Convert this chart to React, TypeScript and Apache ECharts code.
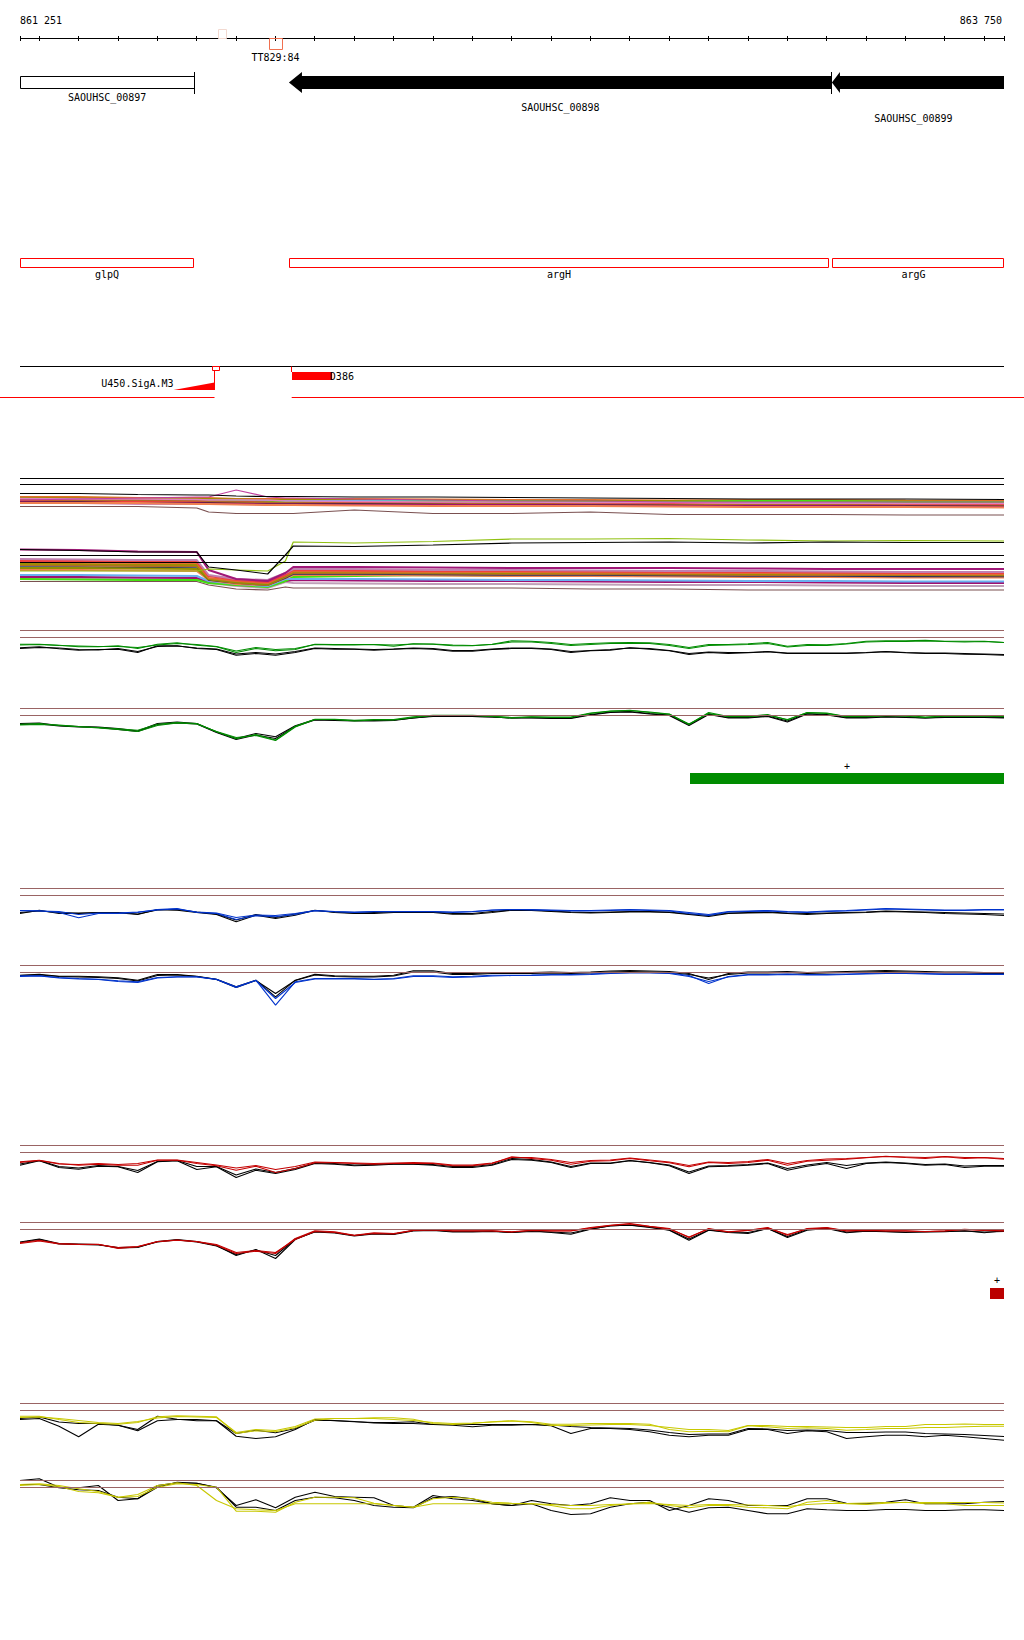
import React, { useEffect, useRef } from 'react';
import * as echarts from 'echarts';

// ---------- axis range (bp) ----------
const X_MIN = 861251;
const X_MAX = 863750;
const rulerTicks = [861251, 861300, 861400, 861500, 861600, 861700, 861800, 861900, 862000, 862100, 862200, 862300, 862400, 862500, 862600, 862700, 862800, 862900, 863000, 863100, 863200, 863300, 863400, 863500, 863600, 863700, 863750];
const rulerLabels = ['861 251', '863 750'];

// ---------- features ----------
const markerPos = [861765, 861900];
const markerLabel = ['', 'TT829:84'];

const geneNames = ['SAOUHSC_00897', 'SAOUHSC_00898', 'SAOUHSC_00899'];
const geneStart = [861251, 861934, 863313];
const geneEnd = [861694, 863313, 863750];
const geneKind = ['box', 'arrow', 'arrow'];

const operonNames = ['glpQ', 'argH', 'argG'];
const operonStart = [861251, 861934, 863312];
const operonEnd = [861694, 863306, 863750];

const promoterName = 'U450.SigA.M3';
const promoterRange = [861641, 861745];
const fragmentName = 'D386';
const fragmentRange = [861941, 862043];
const gapRange = [861745, 861941];

const greenRegion = [862953, 863750];
const redRegion = [863715, 863750];

// ---------- line-panel samples (bp) ----------
const LX = [861251, 861300, 861350, 861400, 861450, 861500, 861550, 861600, 861650, 861700, 861750, 861800, 861850, 861900, 861950, 862000, 862050, 862100, 862150, 862200, 862250, 862300, 862350, 862400, 862450, 862500, 862550, 862600, 862650, 862700, 862750, 862800, 862850, 862900, 862950, 863000, 863050, 863100, 863150, 863200, 863250, 863300, 863350, 863400, 863450, 863500, 863550, 863600, 863650, 863700, 863750];

// values: display offset below the upper reference line
const g1c1 = [13.7, 13.7, 14.7, 16.3, 16.3, 15.3, 18, 13.7, 12.3, 14.7, 16.3, 22, 18, 20.3, 19, 13.7, 14, 14, 14, 15.7, 13.3, 13.7, 15.3, 15.3, 13.7, 10.3, 10.7, 12, 14, 13, 12.3, 12, 12.3, 14, 17, 14, 14, 13.3, 12, 15.7, 14, 14.3, 13, 10.7, 10.3, 10.3, 9.7, 10.7, 10.7, 10.7, 12];
const g1c2 = [14.5, 14, 15, 15.5, 16, 16, 17, 14.5, 13, 14, 16, 20.5, 17, 19, 18, 14, 14.5, 14.5, 14, 14.5, 13.5, 13.5, 14.5, 15, 14, 11.5, 11.5, 13, 15, 14, 13, 13, 13, 15, 18, 15, 14.5, 14, 13, 16.5, 15, 15, 13.5, 11.5, 11, 11, 10.5, 11, 11.5, 11, 12];
const g1k1 = [17.3, 16.3, 18.3, 19.7, 19, 18.7, 22, 15.3, 15.3, 18, 19, 24.7, 23, 24.7, 22, 18, 18.7, 18.7, 19.7, 18.7, 18, 18.7, 20.7, 20.7, 19, 18, 18, 19, 22, 20.3, 19.7, 17.3, 18.7, 20.3, 24, 22, 23, 22.3, 21.3, 23, 23, 23, 23, 22.3, 21.3, 22.3, 23, 23, 23.7, 24, 24.7];
const g1k2 = [18, 17, 17.5, 19, 19.5, 18, 21, 16, 15.5, 17.5, 18.5, 23.5, 22, 23.5, 21, 17.5, 18, 18.5, 19, 18.5, 17.5, 18, 20, 20, 18.5, 17.5, 17.5, 18.5, 21, 20, 19, 17.5, 18, 20, 23, 21.5, 22, 22, 21, 22.5, 22.5, 22.5, 22.5, 22, 21, 22, 22.5, 22.5, 23, 23.5, 24];

const g2c1 = [15.7, 15, 17, 18.3, 19, 20.3, 21.7, 15.7, 14, 15, 23.3, 30.3, 26, 31.5, 17.7, 10.7, 10.7, 11.7, 11, 11, 8.3, 6.7, 6.7, 6.7, 7.7, 9, 8.3, 9, 9, 5, 2.7, 1.7, 4, 5.7, 15.5, 5, 8.3, 8.3, 6.7, 11, 4.3, 5, 8.3, 8.3, 7.3, 7.7, 9, 7.7, 7.7, 7.7, 8.3];
const g2c2 = [16.5, 16, 16.5, 18, 19.5, 21, 23, 17, 14.5, 15.5, 23, 29, 27, 32, 18.5, 11, 11, 12.5, 11.5, 11.5, 9, 7, 7, 7, 8, 9.5, 8.5, 8.5, 8.5, 4.5, 2.5, 2, 3.5, 5.5, 16, 4, 8, 8, 6, 11.5, 4, 4.5, 8, 8, 7, 7, 8.5, 7.5, 7.5, 7, 8];
const g2k1 = [15, 14.5, 17, 18, 18.5, 20, 22.5, 15, 13.5, 15, 23.5, 30, 25, 28.3, 17.3, 11, 11.5, 12, 12, 11.5, 9.5, 7.5, 7.5, 8, 8.5, 9.5, 9, 9.5, 9.5, 6, 3.5, 3, 5, 6.5, 16, 5.5, 9, 9, 7.5, 12.5, 5, 6, 9, 9, 8, 8.5, 9.5, 8.5, 8.5, 8.5, 9];
const g2k2 = [16, 15.5, 17.5, 18.5, 19, 21, 23, 16, 14.5, 15.5, 24, 31, 26.5, 30, 18, 11.5, 12, 12.5, 12.5, 12, 9.5, 8, 8, 8, 8.5, 9.5, 9.5, 10, 10, 6.5, 4, 3.5, 5.5, 7, 17, 6, 9.5, 9.5, 8, 13.5, 5.5, 6.5, 9.5, 9.5, 8.5, 9, 9.5, 9, 9, 9, 9.5];

const b1c1 = [22.3, 22.3, 24, 29.3, 25, 25, 24, 21, 20, 24, 25, 31, 27.3, 28.3, 26, 22.3, 23.3, 24, 23.3, 23.3, 23.3, 23.3, 24, 23.3, 21.7, 21, 21, 21.5, 22, 22, 21.5, 21, 21.5, 22, 24, 26, 23, 22.5, 22, 23, 23.5, 22.5, 22, 21, 20, 20.5, 21, 21.5, 21.5, 21, 21];
const b1c2 = [22, 22.5, 23, 26, 24.5, 24.5, 23.5, 21.5, 20.5, 23.5, 24.5, 29, 26.5, 27, 25, 22, 23, 23.5, 23, 23, 23, 23, 23.5, 23, 21.5, 21, 21.5, 22, 22.5, 22.5, 22, 21.5, 22, 22.5, 25, 27, 23.5, 23, 22.5, 23.5, 24, 23, 22.5, 21.5, 20.5, 21, 21.5, 22, 22, 21.5, 21.5];
const b1k1 = [25, 21.7, 25, 25, 24.3, 24.3, 26, 21, 21.7, 24, 26, 33.3, 26.7, 30, 26.7, 21.7, 24, 25, 25, 24, 24, 24, 25.7, 25.7, 24, 21.7, 22, 23, 24, 24.5, 24, 23.5, 23.5, 24, 26, 28, 25, 24.5, 24, 25, 26, 25, 24.5, 24, 23, 23.5, 24, 25, 25.5, 26, 27];
const b1k2 = [24, 22.5, 24, 24.5, 24, 24, 25.5, 21.5, 21, 23.5, 25.5, 31.5, 26, 29, 25.5, 22, 23.5, 24.5, 24, 23.5, 23.5, 23.5, 25, 25, 23, 21.5, 21.5, 22.5, 23.5, 24, 23.5, 23, 23, 23.5, 25.5, 27, 24.5, 24, 23.5, 24.5, 25, 24.5, 24, 23.5, 22.5, 23, 23.5, 24, 24.5, 25, 25.5];

const b2c1 = [10.3, 10.3, 12, 13, 13.7, 15.3, 16.3, 12, 11.3, 11.3, 13.7, 21.3, 14.7, 39.7, 16.3, 13, 13, 13, 13.7, 13, 10.3, 10.3, 11.3, 10.7, 9.7, 9.7, 9.5, 9, 9, 8.5, 7.5, 7, 7, 7.5, 10, 18, 11, 9, 9, 8.5, 9, 9, 8.5, 8, 7.5, 7.5, 8, 8.5, 8.5, 8.5, 8.5];
const b2c2 = [11, 10.5, 12.5, 13.5, 14, 16, 17, 12.5, 11.5, 11.5, 14, 22, 15, 33, 17, 13.5, 13.5, 13.5, 14, 13.5, 11, 11, 12, 11.5, 10.5, 10, 10, 9.5, 9.5, 9, 8, 7.5, 7.5, 8, 11, 16, 11.5, 9.5, 9.5, 9, 9.5, 9.5, 9, 8.5, 8, 8, 8.5, 9, 9, 9, 9];
const b2k1 = [9.7, 8.7, 10.7, 10.7, 11.3, 12.3, 14.7, 9, 9, 10.7, 13.7, 21.3, 14.7, 31.3, 14.7, 8.7, 10.3, 10.7, 10.7, 9.7, 5.3, 5.3, 8, 8, 7.3, 7.3, 7, 6.5, 7, 6.5, 5.5, 5, 5.5, 6, 8, 14, 8, 6.5, 6.5, 6, 7, 6.5, 6, 5.5, 5, 5.5, 6, 6.5, 6.5, 7, 7];
const b2k2 = [10, 9.5, 11, 11.5, 12, 13, 15.5, 10, 9.5, 11, 14, 22, 15, 28, 15, 9.5, 11, 11.5, 11.5, 10.5, 6.5, 6.5, 9, 9, 8, 8, 8, 7.5, 8, 7.5, 6.5, 6, 6.5, 7, 9, 12.5, 9, 7.5, 7.5, 7, 8, 7.5, 7, 6.5, 6, 6.5, 7, 7.5, 7.5, 8, 8];

const r1c1 = [16.3, 14.7, 18, 19.7, 18.7, 19.7, 19.7, 14.7, 14.7, 18, 20.3, 24.7, 20.7, 27, 23, 17.3, 17.3, 18, 18.7, 18, 18, 18, 20.3, 20.3, 18, 11.3, 13, 14.7, 18.7, 15.7, 15.3, 13, 15.3, 17.3, 21.3, 17, 18, 17, 14.7, 19.7, 15.7, 14.7, 13.7, 12.3, 10.7, 12, 13, 11.3, 13, 12.3, 13.7];
const r1c2 = [17, 15, 18.5, 19, 18, 19, 18, 14.5, 14.5, 17, 19.5, 22.5, 20, 24, 21, 16.5, 17, 17.5, 18, 17.5, 17, 17.5, 19.5, 19.5, 17.5, 12, 12, 14, 17, 15, 14.5, 12.5, 14.5, 16.5, 20, 16.5, 17, 16, 14, 18, 15, 13.5, 13, 12, 11, 11.5, 12, 11, 12, 12, 13];
const r1k1 = [19.7, 15.3, 22, 23.7, 20.7, 21.3, 27, 16.3, 15.3, 24, 21.3, 32, 24.7, 28, 24, 18, 18.7, 20.3, 19.7, 18.7, 18.7, 19.7, 22, 22, 19.7, 14, 14.7, 17, 22, 18, 18, 15.3, 17.3, 20.3, 28, 21.3, 20.7, 19.7, 18, 24.7, 20.7, 18, 23, 18, 17, 18, 19.7, 19, 22, 20.7, 20.7];
const r1k2 = [18.5, 15, 21, 22.5, 20, 21, 25, 16, 15, 21, 21, 29.5, 23.5, 27, 23, 17.5, 18, 19.5, 19, 18.5, 18.5, 19, 21, 21, 19, 13, 14, 16.5, 21, 17.5, 17.5, 15, 17, 19.5, 26.5, 20.5, 20, 19, 17.5, 23, 19.5, 17, 20, 17.5, 16.5, 17.5, 19, 18.5, 20.5, 20, 20];

const r2c1 = [20.3, 17.7, 21, 21.7, 21.7, 26, 24.3, 19.3, 17.7, 19.3, 22.7, 31, 28.7, 31, 16, 8.3, 9.3, 12.7, 10.3, 11, 7.7, 7, 8.3, 8.3, 8.3, 9.3, 7.7, 8.3, 8.3, 5, 2.7, 1, 3.7, 6, 15, 6, 9.3, 7.7, 5, 12.7, 6, 5, 8.3, 7.7, 8.3, 8.3, 9.3, 8.3, 6.7, 7.7, 8.3];
const r2c2 = [21, 18.5, 21.5, 22, 22, 25, 24, 19, 17.5, 19, 22, 30, 28, 30, 17, 9, 10, 13, 11, 11.5, 8, 7.5, 8.5, 8.5, 8.5, 9.5, 8, 8.5, 8.5, 5.5, 3, 1.5, 4, 6.5, 14.5, 6.5, 9.5, 8, 5.5, 12, 6.5, 5.5, 8.5, 8, 8.5, 8.5, 9, 8.5, 7, 8, 8.5];
const r2k1 = [19.5, 16.5, 21, 21.5, 22, 25.5, 25, 19, 17, 19, 23, 33, 27, 36, 17, 9, 10, 13, 11, 11.5, 8, 7.5, 9, 9, 8.5, 10, 8.3, 10, 11.7, 6.7, 3.3, 2.7, 5, 7.7, 17.7, 7.7, 10, 11, 6, 15, 7.7, 6, 10.3, 8.7, 9.3, 10, 9.3, 9.3, 8.3, 10.3, 8.3];
const r2k2 = [20, 17, 21.5, 22, 22.5, 25, 24.5, 19.5, 17.5, 19.5, 23.5, 32, 27.5, 33, 16.5, 9.5, 10.5, 13.5, 11.5, 12, 8.5, 8, 9.5, 9.5, 9, 10, 9, 9.5, 10.5, 6.5, 3.5, 2.5, 4.5, 7.5, 16.5, 7.5, 9.5, 10, 6, 14, 7, 5.5, 9.5, 8.5, 9, 9.5, 9.5, 9, 8.5, 9.5, 9];

const y1c1 = [12.7, 12.7, 16, 19, 20, 20.7, 19, 13.3, 12.3, 12.7, 13.3, 30, 27.3, 28.3, 24.3, 16.7, 15, 15, 14.3, 14.3, 15.7, 20, 21, 20, 18.3, 17.3, 18.3, 20.7, 20.7, 20, 20, 20, 20.7, 26, 28.3, 27.7, 28.3, 22.3, 23.3, 25, 24.3, 25, 26.7, 26, 25, 25, 24, 24, 23.3, 22.7, 22.7];
const y1c2 = [14, 13.5, 15, 17, 19, 20, 18, 14.5, 13, 13.5, 14, 29, 26, 27, 23, 15.5, 15, 15, 15, 16, 17, 19, 20, 19.5, 18.5, 17.5, 19, 22, 22, 21.5, 21, 21, 22, 24, 26, 26, 27, 22, 22, 23, 23, 23.5, 24, 24, 23, 23, 21, 21, 20.5, 21, 21];
const y1k1 = [16, 15, 22.7, 33.3, 20.7, 21.7, 26, 12.7, 15.7, 17.3, 17.3, 32.7, 35, 33.3, 26, 16, 17.3, 18.3, 19, 19, 18.3, 21, 21.7, 23.3, 21.7, 21.7, 21, 22.3, 30, 25, 25, 26, 28.3, 31.7, 33.3, 31.7, 31.7, 26, 26, 30, 27.3, 28.3, 35, 33.3, 31.7, 31.7, 33.3, 31.7, 33.3, 35, 36.7];
const y1k2 = [15, 13.5, 18.5, 20, 20, 21.7, 27.3, 17.3, 16, 16, 17.3, 30, 26.7, 29.3, 25, 16.7, 17, 18, 19.5, 20, 20, 21, 21, 21, 21, 21, 21, 21.5, 23, 24, 24.5, 25, 26.5, 29, 31, 30.5, 30.5, 25, 25.5, 27, 26.5, 27, 29, 29, 28.5, 28.5, 30, 30.5, 31, 32, 33];

const y2c1 = [4, 3.3, 5, 8.3, 11, 16.7, 16, 6.7, 3.3, 4, 6.7, 30.7, 30.7, 31.7, 21.7, 16.7, 16.7, 17.3, 22.7, 25, 26.7, 18.3, 16.7, 18.3, 21.7, 22.7, 23.3, 25, 28.3, 28.3, 25, 23.3, 21.7, 25, 27.3, 25, 25, 26.7, 27.3, 28.3, 21.7, 20, 23.3, 24, 22.7, 21.7, 23.3, 23.3, 25, 25, 25];
const y2c2 = [5, 4, 6, 11, 12.3, 16.7, 14, 5, 2.3, 5, 20, 28.3, 29.3, 30, 23.3, 23.3, 23.3, 23.3, 23.3, 25, 26.7, 23.3, 23.3, 23.3, 23.3, 23.3, 23.3, 24, 25, 25, 24, 23.5, 23, 24, 25, 24, 24, 24.5, 25, 26, 24, 23, 23, 22.5, 22, 22, 22, 22, 22, 22, 22.5];
const y2k1 = [0, -1.7, 6.7, 7.3, 5, 20, 18.3, 6.7, 1.7, 2.7, 7.3, 25, 19.3, 27.3, 16.7, 11.7, 16, 16.7, 17.3, 25, 26.7, 15, 18.3, 20, 23.3, 25, 20, 23.3, 25, 23.3, 17.3, 20, 20, 30, 25, 18.3, 20, 25, 25, 25, 18.3, 18.3, 22.7, 23.3, 21.7, 19.3, 23.3, 23.3, 23.3, 21.7, 21];
const y2k2 = [4, 4, 7.3, 9.3, 10, 16.7, 18.3, 5, 2.3, 2.7, 6.7, 26.7, 26.7, 30, 20, 16.7, 17.3, 20, 25, 26.7, 27.3, 17.3, 16, 18.3, 23.3, 25, 23.3, 30, 34, 33.3, 26.7, 23.3, 21.7, 26.7, 31.7, 27.3, 26.7, 30, 33.3, 33.3, 28.3, 29.3, 30, 30, 29, 29, 30, 30, 29.3, 29.3, 30];

// ---------- dense expression track ----------
const DX = [861251, 861400, 861550, 861700, 861730, 861800, 861880, 861925, 861945, 862100, 862300, 862500, 862700, 862900, 863100, 863300, 863500, 863750];
const uBlack = [18.5, 18.5, 19.5, 20, 20, 21, 21.5, 21.5, 21.5, 22, 22, 22.5, 23, 23.5, 24, 24, 24, 24.5];
const uBrown = [31.5, 31.5, 31.5, 33, 37, 38.5, 38.5, 38.5, 38.5, 35, 38.5, 38.5, 37, 39.5, 39.5, 39.5, 40, 40];
const uMagenta = [25, 24, 23, 22, 22, 15, 22, 23, 23, 24, 25, 26, 26, 27, 27, 27, 27, 27];
const uOrange = [22, 22, 23, 23, 23, 24, 24, 24, 24, 24, 24.5, 25, 25, 25.5, 25, 25, 25.5, 26];
const uOlive = [23, 23.5, 24, 24, 24, 24.5, 25, 25, 25, 25, 25.5, 26, 26, 26, 26.5, 26.5, 26.5, 27];
const uLblue = [24, 24.5, 25, 25, 25.5, 25.5, 26, 26, 26, 26, 26, 27, 27, 27, 27.5, 27.5, 28, 28];
const uGreen = [25, 25, 25.5, 25.5, 26, 26, 27, 27, 27, 27, 26.5, 26, 27, 27, 26, 26, 27, 27];
const uRed = [26, 26, 26.5, 27, 27, 27, 27.5, 28, 28, 28, 28, 28.5, 29, 29, 29.5, 29.5, 29.5, 30];
const uBrown2 = [24.5, 25, 25, 25.5, 26, 27, 28, 28, 28, 28.5, 29, 29, 29.5, 30, 30, 30, 30.5, 31];
const uNavy = [27, 27, 28, 28, 28, 28.5, 29, 29, 29, 29, 29.5, 30, 30, 30.5, 31, 31, 31, 31.5];
const uPurple = [27.5, 28, 28.5, 28.5, 29, 29, 29.5, 29.5, 29.5, 30, 30, 30, 30.5, 31, 31, 31, 31.5, 32];
const uPink = [23.5, 24, 24, 24.5, 25, 25, 25, 26, 26, 26.5, 27, 27, 27.5, 27.5, 28, 28, 28.5, 28.5];
const uSalmon = [28, 28, 28, 29, 29, 29.5, 30, 30, 30, 30.5, 31, 31, 31, 31.5, 32, 32, 32, 32.5];

const lBlack = [74.5, 75.5, 77, 77, 92, 95, 99, 80, 71, 71.5, 70, 68, 67.5, 67, 68, 67, 67.5, 67.5];
const lYellowGreen = [96, 96, 96, 96, 94, 95, 96, 86, 67, 68, 66.5, 64, 64, 63.5, 65, 66, 65.5, 66];
const l1 = [74.5, 75, 76.5, 77, 95, 104, 106, 98, 92, 92, 92.5, 93, 93, 93, 93.5, 94, 94, 94];
const l2 = [84, 84.5, 85, 85, 100, 104, 105, 98, 94, 94, 95, 95, 95.5, 96, 96, 96.5, 97, 97];
const l3 = [86, 86, 86.5, 87, 101, 105, 107, 100, 95, 95.5, 96, 96, 96.5, 97, 97, 97.5, 98, 98];
const l4 = [87, 87.5, 88, 88, 103, 106, 108, 100, 96, 96.5, 97, 97, 97.5, 98, 98, 98.5, 99, 99];
const l5 = [89, 89, 89.5, 90, 104, 107, 109, 101, 97, 97, 97.5, 98, 98, 98.5, 99, 99, 99.5, 99.5];
const l6 = [90, 90.5, 91, 91, 104, 108, 110, 102, 98, 98, 98.5, 99, 99, 99.5, 100, 100, 100, 100.5];
const l7 = [92, 92, 92.5, 93, 105, 108, 110, 103, 99, 99, 99.5, 100, 100, 100.5, 101, 101, 101.5, 101.5];
const l8 = [100, 100, 100.5, 101, 106, 109, 111, 104, 104, 104, 104.5, 105, 105, 105.5, 106, 106, 106.5, 106.5];
const l9 = [104, 104.5, 105, 105, 108, 110, 112, 106, 102, 101, 100, 101, 101, 100, 99, 99, 98, 98];
const l10 = [102, 102, 102.5, 103, 107, 110, 111, 106, 105, 105.5, 106, 106, 106.5, 107, 107, 107.5, 108, 108];
const l11 = [103, 103, 103, 104, 108, 111, 113, 107, 108, 108.5, 109, 109, 109.5, 110, 110, 110.5, 111, 111];
const l12 = [95, 95, 95.5, 96, 105, 109, 110, 103, 100, 100, 100.5, 101, 101, 101.5, 102, 102, 102.5, 102.5];
const l13 = [106.5, 106.5, 106.5, 106.5, 110, 114, 115, 112, 113, 113, 113, 113, 114, 114, 115, 115, 115, 115];
const l14 = [93, 93, 93.5, 94, 104, 107, 109, 101, 96, 96, 96, 97, 97, 97, 97.5, 98, 98, 98];

// ---------- styles / layout ----------
const FONT = '10px "DejaVu Sans Mono"';
const GREEN = '#008c00';
const BLUE = '#0033cc';
const RED = '#c40000';
const YELLOW = '#c8c800';
const REF = '#9a6464';
const PANEL_BASES = [630.5, 708.5, 888.5, 965.5, 1145.5, 1222.5, 1403.5, 1480.5];
const GENE_HEAD = [0, 13, 8];
const GENE_LABEL_Y = [97.5, 107, 118];

const panels = [
  { color: GREEN, c: [g1c1, g1c2], k: [g1k1, g1k2] },
  { color: GREEN, c: [g2c1, g2c2], k: [g2k1, g2k2] },
  { color: BLUE, c: [b1c1, b1c2], k: [b1k1, b1k2] },
  { color: BLUE, c: [b2c1, b2c2], k: [b2k1, b2k2] },
  { color: RED, c: [r1c1, r1c2], k: [r1k1, r1k2] },
  { color: RED, c: [r2c1, r2c2], k: [r2k1, r2k2] },
  { color: YELLOW, c: [y1c1, y1c2], k: [y1k1, y1k2] },
  { color: YELLOW, c: [y2c1, y2c2], k: [y2k1, y2k2] },
];

const denseLines = [
  { d: uBrown, c: '#7a5050', w: 1.2 },
  { d: uOrange, c: '#e0702a', w: 2 },
  { d: uOlive, c: '#a08c00', w: 2 },
  { d: uLblue, c: '#6ab0f0', w: 2 },
  { d: uGreen, c: '#44e010', w: 2 },
  { d: uRed, c: '#f03c3c', w: 2 },
  { d: uBrown2, c: '#b06a28', w: 2 },
  { d: uNavy, c: '#301848', w: 1.5 },
  { d: uPurple, c: '#a01070', w: 2 },
  { d: uPink, c: '#e080c0', w: 1.5 },
  { d: uSalmon, c: '#f08050', w: 2 },
  { d: uMagenta, c: '#c040a0', w: 1.2 },
  { d: uBlack, c: '#000000', w: 1.2 },
  { d: l13, c: '#7a5050', w: 1.2 },
  { d: l11, c: '#c0a0b8', w: 2 },
  { d: l10, c: '#a01070', w: 2 },
  { d: l9, c: '#44e010', w: 2 },
  { d: l8, c: '#6ab0f0', w: 2 },
  { d: l12, c: '#f08050', w: 2 },
  { d: l7, c: '#203060', w: 1.5 },
  { d: l6, c: '#b06a28', w: 2 },
  { d: l5, c: '#a08c00', w: 2 },
  { d: l14, c: '#909000', w: 2 },
  { d: l4, c: '#e07030', w: 2 },
  { d: l3, c: '#f04040', w: 2 },
  { d: l2, c: '#c080b0', w: 2 },
  { d: l1, c: '#a01878', w: 2 },
  { d: lYellowGreen, c: '#90c010', w: 1.2 },
  { d: lBlack, c: '#000000', w: 1.2 },
];

function txt(text: string, x: number, y: number, align: string, fill = '#000') {
  return {
    type: 'text',
    style: { text, x, y, font: FONT, fill, align, textAlign: align, verticalAlign: 'middle', textVerticalAlign: 'middle' },
  };
}
function ln(x1: number, y1: number, x2: number, y2: number, stroke: string) {
  return { type: 'line', shape: { x1, y1, x2, y2 }, style: { stroke, lineWidth: 1 } };
}
const px = (api: any, v: number) => api.coord([v, 0])[0];
const snap = (x: number) => Math.round(x) + 0.5;

function buildOption() {
  const grids: any[] = [
    { left: 20, top: 0, width: 984, height: 1640 },
    { left: 20, top: 475, width: 984, height: 125 },
    ...PANEL_BASES.map((b) => ({ left: 20, top: b - 5, width: 984, height: 50 })),
  ];
  const xAxis = grids.map((_, i) => ({ gridIndex: i, type: 'value', min: X_MIN, max: X_MAX, show: false }));
  const yAxis: any[] = [
    { gridIndex: 0, type: 'value', min: 0, max: 1640, inverse: true, show: false },
    { gridIndex: 1, type: 'value', min: 0, max: 125, inverse: true, show: false },
    ...PANEL_BASES.map((_, i) => ({ gridIndex: i + 2, type: 'value', min: -5, max: 45, inverse: true, show: false })),
  ];

  const custom = (data: any[], renderItem: any) => ({
    type: 'custom', xAxisIndex: 0, yAxisIndex: 0, clip: false, silent: true, data, renderItem,
  });

  const series: any[] = [];

  // ruler
  series.push(custom([[X_MIN, X_MAX]], (p: any, api: any) => {
    const x0 = px(api, api.value(0)), x1 = px(api, api.value(1));
    return {
      type: 'group',
      children: [
        ln(x0, 38.5, x1, 38.5, '#000'),
        txt(rulerLabels[0], x0, 20, 'left'),
        txt(rulerLabels[1], x1 - 2, 20, 'right'),
      ],
    };
  }));
  series.push(custom(rulerTicks.map((v) => [v]), (p: any, api: any) => {
    const x = snap(px(api, api.value(0)) - 0.5);
    return ln(x, 36, x, 41, '#000');
  }));
  series.push(custom(markerPos.map((v) => [v]), (p: any, api: any) => {
    const x = px(api, api.value(0));
    const i = p.dataIndex;
    if (i === 0) {
      return { type: 'rect', shape: { x: Math.round(x) - 3.5, y: 29.5, width: 8, height: 9 }, style: { fill: '#fff', stroke: '#f2d9d0', lineWidth: 1 } };
    }
    return {
      type: 'group',
      children: [
        { type: 'rect', shape: { x: Math.round(x) - 6.5, y: 38.5, width: 13, height: 11 }, style: { fill: 'rgba(0,0,0,0)', stroke: '#f07050', lineWidth: 1 } },
        txt(markerLabel[i], x, 57, 'center'),
      ],
    };
  }));

  // genes
  series.push(custom(geneNames.map((_, i) => [geneStart[i], geneEnd[i]]), (p: any, api: any) => {
    const i = p.dataIndex;
    const x0 = px(api, api.value(0)), x1 = px(api, api.value(1));
    const top = 76, bot = 89, mid = 82.5;
    const ch: any[] = [];
    if (geneKind[i] === 'box') {
      ch.push({ type: 'rect', shape: { x: snap(x0), y: top + 0.5, width: snap(x1) - snap(x0), height: bot - top - 1 }, style: { fill: '#fff', stroke: '#000', lineWidth: 1 } });
    } else {
      const h = GENE_HEAD[i];
      ch.push({
        type: 'polygon',
        shape: { points: [[x0, mid], [x0 + h, 72], [x0 + h, top], [x1, top], [x1, bot], [x0 + h, bot], [x0 + h, 93]] },
        style: { fill: '#000' },
      });
    }
    if (api.value(1) < X_MAX) {
      const xe = snap(x1 - 0.5);
      ch.push(ln(xe, 72, xe, 94, '#000'));
    }
    const labelEnd = api.value(1) < X_MAX ? x1 : x1 - 9;
    ch.push(txt(geneNames[i], (x0 + labelEnd) / 2, GENE_LABEL_Y[i], 'center'));
    return { type: 'group', children: ch };
  }));

  // operons
  series.push(custom(operonNames.map((_, i) => [operonStart[i], operonEnd[i]]), (p: any, api: any) => {
    const i = p.dataIndex;
    const x0 = snap(px(api, api.value(0))), x1 = snap(px(api, api.value(1)) - 1);
    const labelEnd = api.value(1) < X_MAX ? x1 : x1 - 9;
    return {
      type: 'group',
      children: [
        { type: 'rect', shape: { x: x0, y: 258.5, width: x1 - x0, height: 9 }, style: { fill: 'rgba(0,0,0,0)', stroke: '#ff0000', lineWidth: 1 } },
        txt(operonNames[i], (x0 + labelEnd) / 2, 274.5, 'center'),
      ],
    };
  }));

  // promoter / terminator track
  series.push(custom([[X_MIN, X_MAX]], (p: any, api: any) => {
    const x0 = px(api, api.value(0)), x1 = px(api, api.value(1));
    return ln(x0, 366.5, x1, 366.5, '#000');
  }));
  series.push(custom([promoterRange], (p: any, api: any) => {
    const x0 = px(api, api.value(0)), x1 = snap(px(api, api.value(1)) - 0.5);
    return {
      type: 'group',
      children: [
        { type: 'polygon', shape: { points: [[x0, 390], [x1, 390], [x1, 382.5]] }, style: { fill: '#ff0000' } },
        ln(x1, 366.5, x1, 390, '#ff0000'),
        { type: 'rect', shape: { x: x1 - 2, y: 366.5, width: 7, height: 4 }, style: { fill: '#fff', stroke: '#ff0000', lineWidth: 1 } },
        txt(promoterName, x0, 383.5, 'right'),
      ],
    };
  }));
  series.push(custom([fragmentRange], (p: any, api: any) => {
    const x0 = px(api, api.value(0)), x1 = px(api, api.value(1));
    return {
      type: 'group',
      children: [
        { type: 'rect', shape: { x: Math.round(x0), y: 372, width: x1 - x0, height: 8 }, style: { fill: '#ff0000' } },
        ln(snap(x0 - 0.5), 366.5, snap(x0 - 0.5), 372, '#ff0000'),
        txt(fragmentName, x1 - 2, 376, 'left'),
      ],
    };
  }));
  series.push(custom([gapRange], (p: any, api: any) => {
    const x0 = px(api, api.value(0)), x1 = px(api, api.value(1));
    return {
      type: 'group',
      children: [ln(0, 397.5, x0, 397.5, '#ff0000'), ln(x1, 397.5, 1024, 397.5, '#ff0000')],
    };
  }));

  // region bars
  series.push(custom([greenRegion], (p: any, api: any) => {
    const x0 = px(api, api.value(0)), x1 = px(api, api.value(1));
    return {
      type: 'group',
      children: [
        { type: 'rect', shape: { x: Math.round(x0), y: 773, width: x1 - Math.round(x0), height: 11 }, style: { fill: GREEN } },
        txt('+', (x0 + x1) / 2, 766, 'center'),
      ],
    };
  }));
  series.push(custom([redRegion], (p: any, api: any) => {
    const x0 = px(api, api.value(0)), x1 = px(api, api.value(1));
    return {
      type: 'group',
      children: [
        { type: 'rect', shape: { x: Math.round(x0), y: 1288, width: x1 - Math.round(x0), height: 11 }, style: { fill: '#bb0000' } },
        txt('+', (x0 + x1) / 2, 1280, 'center'),
      ],
    };
  }));

  // dense expression lines
  denseLines.forEach((l, j) => {
    const s: any = {
      type: 'line', xAxisIndex: 1, yAxisIndex: 1, silent: true, symbol: 'none',
      data: DX.map((x, i) => [x, l.d[i]]),
      lineStyle: { color: l.c, width: l.w }, itemStyle: { color: l.c },
    };
    if (j === 0) {
      s.markLine = {
        silent: true, symbol: 'none', label: { show: false },
        lineStyle: { color: '#000', width: 1, type: 'solid' },
        data: [{ yAxis: 3.5 }, { yAxis: 9.5 }, { yAxis: 80.5 }, { yAxis: 87.5 }],
      };
    }
    series.push(s);
  });

  // line panels
  panels.forEach((pn, i) => {
    const gi = i + 2;
    const mk = (vals: number[], color: string, withRef: boolean) => {
      const s: any = {
        type: 'line', xAxisIndex: gi, yAxisIndex: gi, silent: true, symbol: 'none',
        data: LX.map((x, j) => [x, vals[j]]),
        lineStyle: { color, width: 1.1 }, itemStyle: { color },
      };
      if (withRef) {
        s.markLine = {
          silent: true, symbol: 'none', label: { show: false },
          lineStyle: { color: REF, width: 1, type: 'solid' },
          data: [{ yAxis: 0 }, { yAxis: 7 }],
        };
      }
      return s;
    };
    series.push(mk(pn.k[0], '#000', true));
    series.push(mk(pn.k[1], '#000', false));
    series.push(mk(pn.c[1], pn.color, false));
    series.push(mk(pn.c[0], pn.color, false));
  });

  return {
    animation: false,
    backgroundColor: '#ffffff',
    grid: grids,
    xAxis,
    yAxis,
    series,
  };
}

export default function App() {
  const ref = useRef<HTMLDivElement>(null);
  useEffect(() => {
    const chart = echarts.init(ref.current as HTMLDivElement, null, { renderer: 'svg' });
    chart.setOption(buildOption() as any);
    return () => chart.dispose();
  }, []);
  return (
    <div
      ref={ref}
      style={{ position: 'absolute', left: 0, top: 0, width: 1024, height: 1640, background: '#fff' }}
    />
  );
}
